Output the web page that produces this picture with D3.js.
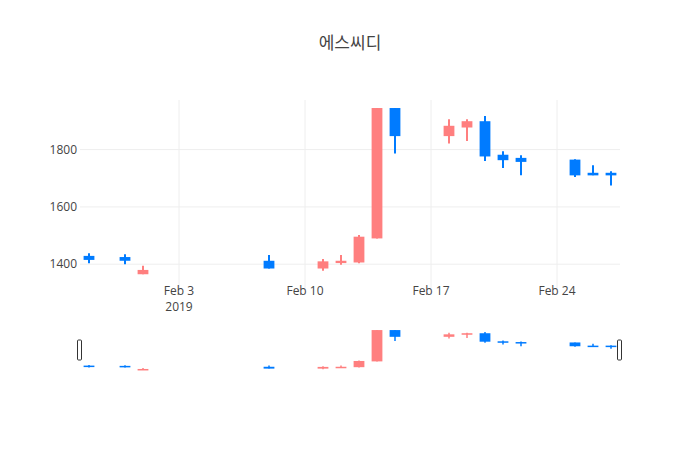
<!DOCTYPE html>
<html><head><meta charset="utf-8">
<script src="https://cdn.jsdelivr.net/npm/d3@7"></script>
<style>body{margin:0;background:#fff}</style></head>
<body><svg id="c" width="700" height="450"></svg>
<script>
const dates = ["2019-01-29","2019-01-31","2019-02-01","2019-02-08","2019-02-11","2019-02-12","2019-02-13","2019-02-14","2019-02-15","2019-02-18","2019-02-19","2019-02-20","2019-02-21","2019-02-22","2019-02-25","2019-02-26","2019-02-27"];
const open  = [1429,1425,1365,1412,1385,1404,1406,1490,1945,1847,1877,1899,1782,1771,1765,1719,1719];
const high  = [1438,1435,1395,1432,1418,1432,1502,1945,1945,1906,1906,1917,1794,1780,1766,1745,1724];
const low   = [1403,1400,1365,1385,1377,1398,1403,1490,1786,1821,1830,1760,1736,1710,1704,1710,1675];
const close = [1415,1412,1380,1385,1410,1412,1496,1945,1847,1883,1899,1776,1763,1757,1710,1710,1710];
const yTicks = [1400,1600,1800];
const xTicks = ["2019-02-03","2019-02-10","2019-02-17","2019-02-24"];
const UP="#ff7f7f", DOWN="#007bff";
const pd=d3.utcParse("%Y-%m-%d");
const data=dates.map((d,i)=>({d:pd(d),o:open[i],h:high[i],l:low[i],c:close[i]}));
const svg=d3.select("#c");
const L=80,R=620,T=100,B=290;
const x=d3.scaleUtc().domain([pd("2019-01-28").getTime()+12*3600e3, pd("2019-02-27").getTime()+12*3600e3]).range([L,R]);
const y=d3.scaleLinear().domain([1310,1973]).range([B,T]);
const g=svg.append("g").attr("font-family","'Open Sans',sans-serif");
g.selectAll(".yg").data(yTicks).join("line").attr("x1",L).attr("x2",R).attr("y1",d=>y(d)).attr("y2",d=>y(d)).attr("stroke","#eee");
g.selectAll(".xg").data(xTicks).join("line").attr("x1",d=>x(pd(d))).attr("x2",d=>x(pd(d))).attr("y1",T).attr("y2",B).attr("stroke","#eee");
g.selectAll(".yl").data(yTicks).join("text").attr("x",L-3).attr("y",d=>y(d)+4).attr("text-anchor","end").attr("font-size",12).attr("fill","#444").text(d=>d);
const fmt=d3.utcFormat("%b %-d");
g.selectAll(".xl").data(xTicks).join("text").attr("x",d=>x(pd(d))).attr("y",B+5).attr("text-anchor","middle").attr("font-size",12).attr("fill","#444").text(d=>fmt(pd(d)));
g.append("text").attr("x",x(pd(xTicks[0]))).attr("y",B+21).attr("text-anchor","middle").attr("font-size",12).attr("fill","#444").text("2019");
svg.append("clipPath").attr("id","cp").append("rect").attr("x",L).attr("y",T).attr("width",R-L).attr("height",B-T);
const day=x(pd("2019-02-02"))-x(pd("2019-02-01"));
function candles(sel,yy,bw,ww){
  const c=sel.selectAll("g").data(data).join("g");
  c.append("line").attr("x1",d=>x(d.d)).attr("x2",d=>x(d.d)).attr("y1",d=>yy(d.h)).attr("y2",d=>yy(d.l)).attr("stroke",d=>d.c>=d.o?UP:DOWN).attr("stroke-width",ww);
  c.append("rect").attr("x",d=>x(d.d)-bw/2).attr("width",bw).attr("y",d=>yy(Math.max(d.o,d.c))).attr("height",d=>Math.max(1.5,Math.abs(yy(d.o)-yy(d.c)))).attr("fill",d=>d.c>=d.o?UP:DOWN);
}
candles(g.append("g").attr("clip-path","url(#cp)"),y,day*0.6,2);
const sT=330,sB=370;
const ys=d3.scaleLinear().domain([1365,1946]).range([sB,sT]);
const sg=g.append("g");
sg.append("rect").attr("x",L).attr("y",sT).attr("width",R-L).attr("height",sB-sT).attr("fill","#fff");
candles(sg.append("g"),ys,day*0.6,1.5);
[L,R].forEach(hx=>sg.append("rect").attr("x",hx-2.5).attr("y",340).attr("width",4).attr("height",20).attr("rx",1).attr("fill","#fff").attr("stroke","#333").attr("stroke-width",1));
svg.append("text").attr("x",350).attr("y",49).attr("text-anchor","middle").attr("font-family","'Noto Sans CJK KR',sans-serif").attr("font-size",17).attr("fill","#444").text("에스씨디");
</script></body></html>
